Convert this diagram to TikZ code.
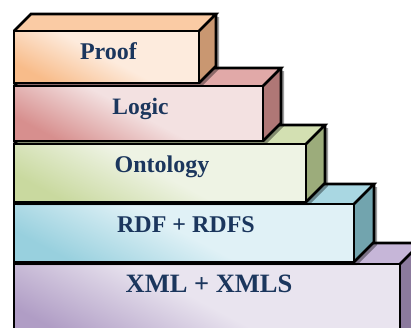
\documentclass[tikz,border=0pt]{standalone}
\usepackage{fontspec}
\setmainfont{Liberation Serif}
\usetikzlibrary{calc}

% palette: front (light / dark), top face, side face for each layer
\definecolor{proofL}{HTML}{FDEBDD}\definecolor{proofD}{HTML}{F8BC8A}
\definecolor{proofT}{HTML}{FACBA4}\definecolor{proofS}{HTML}{C99771}
\definecolor{logicL}{HTML}{F3E1E1}\definecolor{logicD}{HTML}{D78F8E}
\definecolor{logicT}{HTML}{E1A9A8}\definecolor{logicS}{HTML}{AF7776}
\definecolor{ontoL}{HTML}{EEF3E4}\definecolor{ontoD}{HTML}{C9D99F}
\definecolor{ontoT}{HTML}{D3E0B2}\definecolor{ontoS}{HTML}{9CAC7B}
\definecolor{rdfL}{HTML}{E0F1F6}\definecolor{rdfD}{HTML}{98D0DE}
\definecolor{rdfT}{HTML}{A9D7E2}\definecolor{rdfS}{HTML}{72A4AE}
\definecolor{xmlL}{HTML}{E9E4EF}\definecolor{xmlD}{HTML}{B09DC5}
\definecolor{xmlT}{HTML}{C6B6D8}\definecolor{xmlS}{HTML}{8B7A9D}
\definecolor{labelblue}{HTML}{1B365D}

\tikzset{
  edge/.style={draw=black, line width=2.6pt, line join=miter},
  layerlabel/.style={anchor=base, inner sep=0pt, text=labelblue},
  dropshade/.style={fill=black, opacity=0.38},
}

% \layerbox{right x}{front top}{front bottom}{depth}{colour prefix}{label}{node name}{font size}
\newcommand{\layerbox}[8]{%
  % drop shadow
  \fill[dropshade, shift={(3,3)}]
    (14,#2) -- (14+#4,#2-#4) -- (#1+#4,#2-#4) -- (#1+#4,#3-#4) -- (#1,#3) -- (14,#3) -- cycle;
  % front face: saturated towards the lower left corner
  \shade[bottom color=#5D, top color=#5L, middle color=#5L, shading angle=-28]
    (14,#2) rectangle (#1,#3);
  % top face
  \fill[#5T] (14,#2) -- (14+#4,#2-#4) -- (#1+#4,#2-#4) -- (#1,#2) -- cycle;
  % side face
  \fill[#5S] (#1,#2) -- (#1+#4,#2-#4) -- (#1+#4,#3-#4) -- (#1,#3) -- cycle;
  % outlines
  \draw[edge] (14,#2) rectangle (#1,#3);
  \draw[edge] (14,#2) -- (14+#4,#2-#4) -- (#1+#4,#2-#4) -- (#1,#2);
  \draw[edge] (#1+#4,#2-#4) -- (#1+#4,#3-#4) -- (#1,#3);
  \node[layerlabel, font=\bfseries\fontsize{#8}{#8}\selectfont] (#7)
    at ({(14+#1)/2+2},{#2+28.5}) {#6};
}

\begin{document}
\begin{tikzpicture}[x=1pt, y=-1pt]
  \useasboundingbox (0,0) rectangle (411,327);
  \clip (0,0) rectangle (411,327);
  \layerbox{400}{264}{345}{21}{xml}{XML + XMLS}{xml}{26.5}
  \layerbox{354}{204}{262}{20}{rdf}{RDF + RDFS}{rdf}{24}
  \layerbox{306}{144}{202}{19}{onto}{Ontology}{onto}{24}
  \layerbox{263}{86}{141}{18}{logic}{Logic}{logic}{23.5}
  \layerbox{199}{31}{83}{17}{proof}{Proof}{proof}{24}
\end{tikzpicture}
\end{document}
